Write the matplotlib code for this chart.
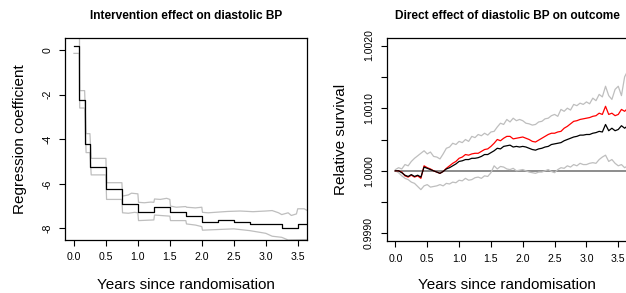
import numpy as np
import matplotlib
matplotlib.use("Agg")
import matplotlib.pyplot as plt
from matplotlib.ticker import FixedLocator, FixedFormatter

plt.rcParams['font.family'] = ['Liberation Sans', 'DejaVu Sans']
plt.rcParams['axes.unicode_minus'] = False

# left panel: intervention effect (step function over visits)
visit_t = [0, 1/12, 2/12, 0.25, 0.5, 0.75, 1.0, 1.25, 1.5, 1.75, 2.0, 2.25, 2.5, 2.75, 3.0, 3.25, 3.5, 3.65]
coef = [0.2, -2.25, -4.2, -5.23, -6.25, -6.9, -7.28, -7.06, -7.28, -7.44, -7.7, -7.63, -7.7, -7.78, -7.82, -7.97, -7.82, -7.82]

upper_t = [0, 0.083, 0.09, 0.167, 0.19, 0.25, 0.27, 0.5, 0.51, 0.75, 0.76, 0.85, 0.9, 1.0, 1.01, 1.1, 1.2,
           1.25, 1.26, 1.35, 1.45, 1.5, 1.51, 1.6, 1.75, 1.76, 1.9, 2.0, 2.01, 2.1, 2.25, 2.4, 2.6, 2.8,
           3.0, 3.1, 3.2, 3.25, 3.35, 3.4, 3.48, 3.5, 3.6, 3.65]
upper_ci = [3.0, 3.0, -1.82, -1.82, -3.75, -3.75, -4.86, -4.86, -5.95, -5.95, -6.55, -6.5, -6.42, -6.45,
            -6.83, -6.85, -6.82, -6.83, -6.68, -6.7, -6.65, -6.7, -7.0, -7.05, -7.02, -7.05, -7.08, -7.05,
            -7.28, -7.3, -7.27, -7.24, -7.22, -7.25, -7.22, -7.2, -7.3, -7.38, -7.3, -7.42, -7.35, -7.12,
            -7.12, -7.2]

lower_t = [0, 0.083, 0.09, 0.167, 0.19, 0.25, 0.27, 0.5, 0.51, 0.75, 0.76, 0.85, 0.95, 1.0, 1.01, 1.25,
           1.26, 1.35, 1.5, 1.51, 1.75, 1.76, 1.9, 2.0, 2.01, 2.25, 2.5, 2.75, 3.0, 3.1, 3.25, 3.35, 3.65]
lower_ci = [-0.15, -0.15, -2.6, -2.6, -4.6, -4.6, -5.6, -5.6, -6.7, -6.7, -7.3, -7.32, -7.28, -7.3, -7.65,
            -7.62, -7.4, -7.42, -7.45, -7.65, -7.65, -7.8, -7.85, -7.92, -8.08, -8.05, -8.02, -8.1, -8.22,
            -8.35, -8.4, -8.52, -8.5]

# right panel: relative survival, offsets from 1 in units of 1e-3
surv_t = np.arange(74) * 0.05
surv_red = [0.0, 0.0, -0.02, -0.08, -0.10, -0.07, -0.10, -0.08, -0.12, 0.08, 0.05, 0.03, 0.0, -0.02,
            -0.04, -0.01, 0.04, 0.08, 0.12, 0.15, 0.20, 0.22, 0.26, 0.25, 0.27, 0.28, 0.28, 0.31, 0.34,
            0.35, 0.39, 0.44, 0.50, 0.48, 0.52, 0.55, 0.55, 0.51, 0.52, 0.53, 0.54, 0.52, 0.50, 0.47,
            0.46, 0.49, 0.52, 0.55, 0.58, 0.60, 0.60, 0.62, 0.63, 0.68, 0.71, 0.75, 0.79, 0.80, 0.82,
            0.83, 0.84, 0.85, 0.87, 0.88, 0.92, 0.90, 1.03, 0.90, 0.92, 0.88, 0.90, 0.98, 0.95, 1.00]
surv_black = [0.0, 0.0, -0.03, -0.07, -0.09, -0.06, -0.09, -0.07, -0.10, 0.06, 0.04, 0.02, 0.0, -0.02,
              -0.04, -0.01, 0.03, 0.05, 0.08, 0.11, 0.15, 0.16, 0.18, 0.18, 0.20, 0.20, 0.21, 0.23, 0.26,
              0.26, 0.29, 0.32, 0.36, 0.35, 0.39, 0.40, 0.41, 0.38, 0.39, 0.38, 0.39, 0.38, 0.36, 0.34,
              0.33, 0.35, 0.36, 0.38, 0.39, 0.42, 0.43, 0.44, 0.45, 0.48, 0.50, 0.52, 0.54, 0.55, 0.57,
              0.57, 0.58, 0.58, 0.60, 0.61, 0.63, 0.62, 0.74, 0.64, 0.68, 0.64, 0.66, 0.72, 0.68, 0.72]
surv_upper = [0.02, 0.05, 0.03, 0.10, 0.08, 0.15, 0.20, 0.24, 0.28, 0.32, 0.27, 0.30, 0.23, 0.22, 0.19,
              0.27, 0.36, 0.38, 0.44, 0.42, 0.47, 0.45, 0.50, 0.47, 0.55, 0.53, 0.58, 0.56, 0.60, 0.57,
              0.62, 0.63, 0.70, 0.76, 0.74, 0.82, 0.78, 0.84, 0.80, 0.82, 0.80, 0.76, 0.75, 0.73, 0.74,
              0.78, 0.79, 0.83, 0.84, 0.88, 0.90, 0.87, 0.98, 0.95, 1.00, 0.97, 1.06, 1.04, 1.08, 1.06,
              1.10, 1.07, 1.16, 1.12, 1.22, 1.18, 1.35, 1.20, 1.14, 1.30, 1.35, 1.20, 1.50, 1.60]
surv_lower = [0.0, -0.03, -0.08, -0.12, -0.14, -0.18, -0.20, -0.25, -0.30, -0.24, -0.22, -0.26, -0.25,
              -0.24, -0.22, -0.24, -0.20, -0.21, -0.18, -0.19, -0.15, -0.16, -0.12, -0.15, -0.14, -0.11,
              -0.10, -0.12, -0.08, -0.09, -0.03, 0.08, 0.03, 0.07, 0.06, 0.03, 0.02, 0.04, 0.0, 0.01,
              0.02, 0.0, -0.02, -0.03, -0.04, -0.02, -0.02, 0.0, 0.02, -0.01, -0.03, 0.02, 0.05, 0.04,
              0.08, 0.06, 0.10, 0.08, 0.12, 0.10, 0.10, 0.12, 0.13, 0.12, 0.18, 0.22, 0.25, 0.15, 0.18,
              0.12, 0.08, 0.10, 0.05, 0.08]

GREY = '#bebebe'

fig = plt.figure(figsize=(6.26, 2.93), dpi=100)
ax1 = fig.add_axes([65/626, 53/293, 242/626, 202/293])
ax2 = fig.add_axes([386.5/626, 52/293, 241/626, 203/293])

# left
ax1.plot(upper_t, upper_ci, color=GREY, lw=0.9)
ax1.plot(lower_t, lower_ci, color=GREY, lw=0.9)
ax1.step(visit_t, coef, where='post', color='black', lw=0.9)
ax1.set_xlim(-0.14, 3.645)
ax1.set_ylim(-8.52, 0.54)
ax1.set_yticks([0, -2, -4, -6, -8])
ax1.set_title('Intervention effect on diastolic BP', fontsize=8.6, fontweight='bold', pad=14)
ax1.set_ylabel('Regression coefficient', fontsize=11, va='center')
ax1.yaxis.set_label_coords(-0.185, 0.5)

# right
def rel(v):
    return 1 + np.array(v) * 1e-3

ax2.plot([0, 3.65], [1, 1], color='#6e6e6e', lw=1.1)
ax2.plot(surv_t, rel(surv_upper), color=GREY, lw=0.9)
ax2.plot(surv_t, rel(surv_lower), color=GREY, lw=0.9)
ax2.plot(surv_t, rel(surv_red), color='red', lw=0.9)
ax2.plot(surv_t, rel(surv_black), color='black', lw=0.9)
ax2.set_xlim(-0.14, 3.645)
ax2.set_ylim(0.99888, 1.00212)
yt = [0.999, 0.9995, 1.0, 1.0005, 1.001, 1.0015, 1.002]
ax2.yaxis.set_major_locator(FixedLocator(yt))
ax2.yaxis.set_major_formatter(FixedFormatter(['0.9990', '', '1.0000', '', '1.0010', '', '1.0020']))
ax2.set_title('Direct effect of diastolic BP on outcome', fontsize=8.6, fontweight='bold', pad=14)
ax2.set_ylabel('Relative survival', fontsize=11, va='center')
ax2.yaxis.set_label_coords(-0.19, 0.5)

for ax in (ax1, ax2):
    ax.set_xticks([0, 0.5, 1.0, 1.5, 2.0, 2.5, 3.0, 3.5])
    ax.set_xticklabels(['0.0', '0.5', '1.0', '1.5', '2.0', '2.5', '3.0', '3.5'])
    ax.tick_params(axis='both', length=4.5, width=0.8, labelsize=7.6, pad=4.5)
    ax.tick_params(axis='y', labelrotation=90)
    for lab in ax.get_yticklabels():
        lab.set_va('center')
    ax.set_xlabel('Years since randomisation', fontsize=11, va='center')
    for s in ax.spines.values():
        s.set_linewidth(0.9)

ax1.xaxis.set_label_coords(0.5, (240 - 285) / 202)
ax2.xaxis.set_label_coords(0.5, (241 - 285) / 203)

fig.savefig('out.png', dpi=100)
